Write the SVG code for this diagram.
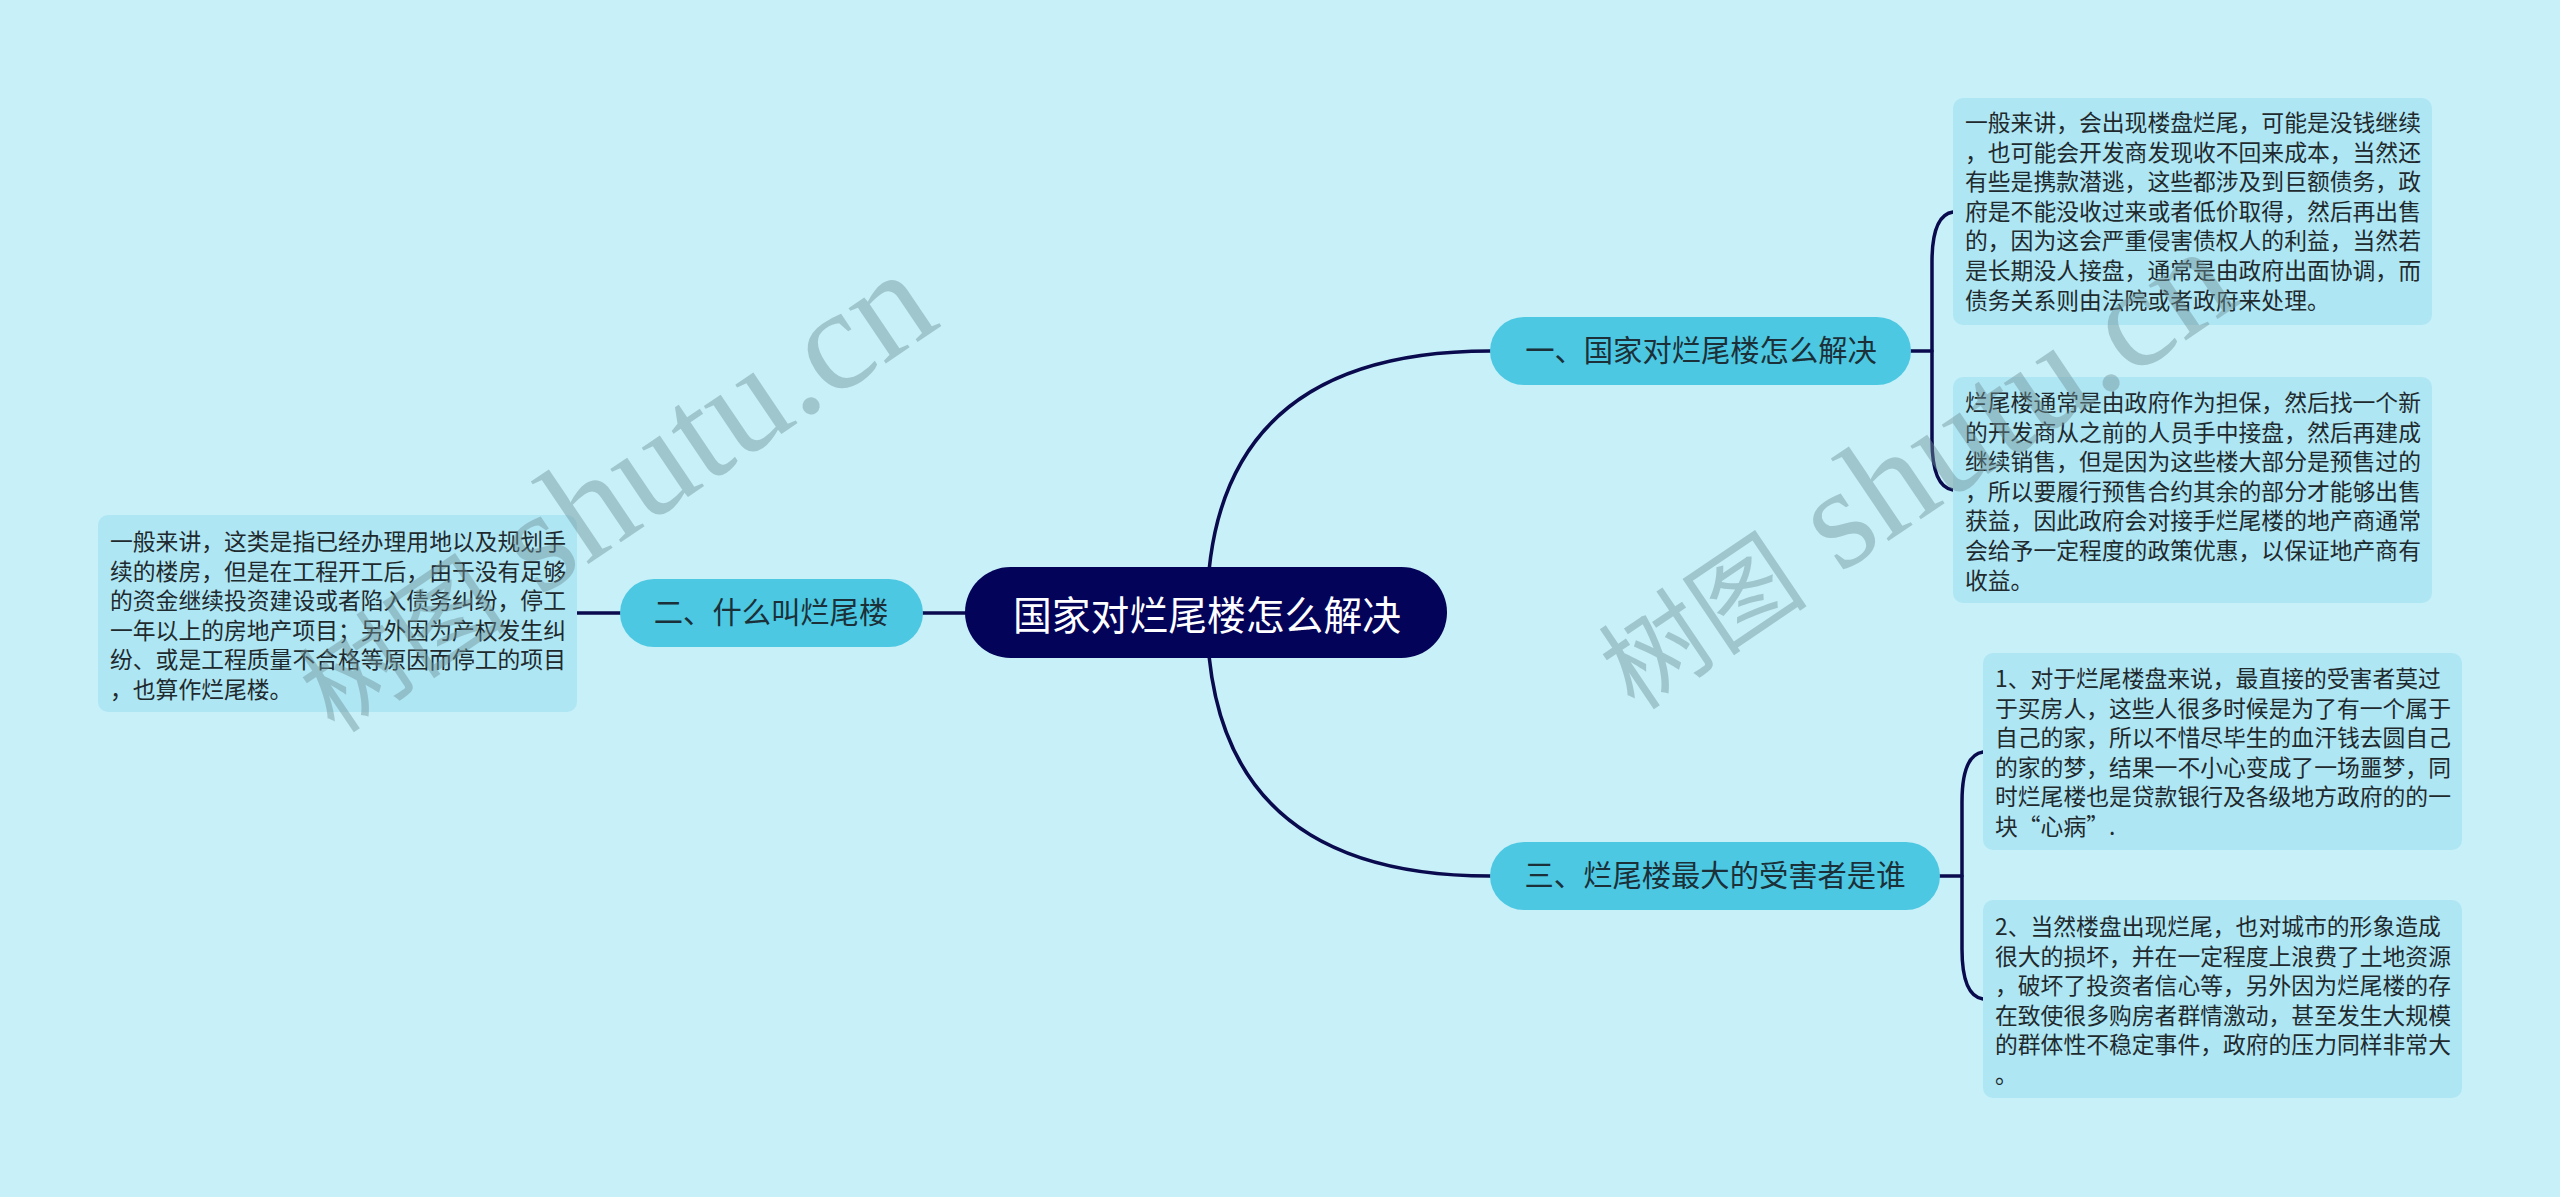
<svg xmlns="http://www.w3.org/2000/svg" width="2560" height="1197" viewBox="0 0 2560 1197">
<style>
.bg{fill:#C8F0F8}
.leaf rect{fill:#AEE6F3}
.leaf text{font-family:"Noto Sans CJK SC","Noto Sans",sans-serif;font-size:22.8px;fill:#1f2a2e}
.branch rect{fill:#4CC8E2}
.branch text{font-family:"Noto Sans CJK SC","Noto Sans",sans-serif;font-size:29.3px;fill:#1b3038;text-anchor:middle}
.center rect{fill:#03035A}
.center text{font-family:"Noto Sans CJK SC","Noto Sans",sans-serif;font-size:40px;fill:#ffffff;text-anchor:middle}
.conn path{fill:none;stroke:#0A0A4E;stroke-width:3.5;stroke-linecap:round}
.wm{font-family:"Liberation Serif","Noto Sans CJK SC",serif;font-size:145px;fill:#6f9398;fill-opacity:0.45}
.wm .cjk{font-size:105px}
</style>
<rect class="bg" x="0" y="0" width="2560" height="1197"/>
<g id="connectors" class="conn">
<path d="M1207,613 Q1207,351 1490,351"/>
<path d="M1207,613 Q1207,876 1490,876"/>
<path d="M965,613 L923,613"/>
<path d="M620,613 L577,613"/>
<path d="M1911,351 L1932,351"/>
<path d="M1953,212 Q1932,215 1932,262 L1932,440 Q1932,487 1953,490"/>
<path d="M1940,876 L1962,876"/>
<path d="M1983,752 Q1962,755 1962,802 L1962,949 Q1962,996 1983,999"/>
</g>
<g id="center" class="center">
<rect x="965" y="567" width="482" height="91" rx="45.5"/>
<text x="1207" y="630" textLength="388" lengthAdjust="spacingAndGlyphs">国家对烂尾楼怎么解决</text>
</g>
<g id="branch1" class="branch">
<rect x="1490" y="317" width="421" height="68" rx="34"/>
<text x="1701" y="361">一、国家对烂尾楼怎么解决</text>
</g>
<g id="branch2" class="branch">
<rect x="620" y="579" width="303" height="68" rx="34"/>
<text x="771" y="623">二、什么叫烂尾楼</text>
</g>
<g id="branch3" class="branch">
<rect x="1490" y="842" width="450" height="68" rx="34"/>
<text x="1715" y="886">三、烂尾楼最大的受害者是谁</text>
</g>
<g id="leaf1" class="leaf">
<rect x="1953" y="98" width="479" height="227" rx="10"/>
<text x="1965" y="131">一般来讲，会出现楼盘烂尾，可能是没钱继续</text>
<text x="1965" y="160.6">，也可能会开发商发现收不回来成本，当然还</text>
<text x="1965" y="190.2">有些是携款潜逃，这些都涉及到巨额债务，政</text>
<text x="1965" y="219.8">府是不能没收过来或者低价取得，然后再出售</text>
<text x="1965" y="249.4">的，因为这会严重侵害债权人的利益，当然若</text>
<text x="1965" y="279">是长期没人接盘，通常是由政府出面协调，而</text>
<text x="1965" y="308.6">债务关系则由法院或者政府来处理。</text>
</g>
<g id="leaf2" class="leaf">
<rect x="1953" y="377" width="479" height="226" rx="10"/>
<text x="1965" y="411">烂尾楼通常是由政府作为担保，然后找一个新</text>
<text x="1965" y="440.6">的开发商从之前的人员手中接盘，然后再建成</text>
<text x="1965" y="470.2">继续销售，但是因为这些楼大部分是预售过的</text>
<text x="1965" y="499.8">，所以要履行预售合约其余的部分才能够出售</text>
<text x="1965" y="529.4">获益，因此政府会对接手烂尾楼的地产商通常</text>
<text x="1965" y="559">会给予一定程度的政策优惠，以保证地产商有</text>
<text x="1965" y="588.6">收益。</text>
</g>
<g id="leaf3" class="leaf">
<rect x="1983" y="653" width="479" height="197" rx="10"/>
<text x="1995" y="687">1、对于烂尾楼盘来说，最直接的受害者莫过</text>
<text x="1995" y="716.6">于买房人，这些人很多时候是为了有一个属于</text>
<text x="1995" y="746.2">自己的家，所以不惜尽毕生的血汗钱去圆自己</text>
<text x="1995" y="775.8">的家的梦，结果一不小心变成了一场噩梦，同</text>
<text x="1995" y="805.4">时烂尾楼也是贷款银行及各级地方政府的的一</text>
<text x="1995" y="835">块“心病”.</text>
</g>
<g id="leaf4" class="leaf">
<rect x="1983" y="900" width="479" height="198" rx="10"/>
<text x="1995" y="935">2、当然楼盘出现烂尾，也对城市的形象造成</text>
<text x="1995" y="964.6">很大的损坏，并在一定程度上浪费了土地资源</text>
<text x="1995" y="994.2">，破坏了投资者信心等，另外因为烂尾楼的存</text>
<text x="1995" y="1023.8">在致使很多购房者群情激动，甚至发生大规模</text>
<text x="1995" y="1053.4">的群体性不稳定事件，政府的压力同样非常大</text>
<text x="1995" y="1083">。</text>
</g>
<g id="leaf5" class="leaf">
<rect x="98" y="515" width="479" height="197" rx="10"/>
<text x="110" y="550">一般来讲，这类是指已经办理用地以及规划手</text>
<text x="110" y="579.6">续的楼房，但是在工程开工后，由于没有足够</text>
<text x="110" y="609.2">的资金继续投资建设或者陷入债务纠纷，停工</text>
<text x="110" y="638.8">一年以上的房地产项目；另外因为产权发生纠</text>
<text x="110" y="668.4">纷、或是工程质量不合格等原因而停工的项目</text>
<text x="110" y="698">，也算作烂尾楼。</text>
</g>
<text class="wm" transform="translate(335,735) rotate(-34)"><tspan class="cjk">树图</tspan> shutu.cn</text>
<text class="wm" transform="translate(1635,712) rotate(-34)"><tspan class="cjk">树图</tspan> shutu.cn</text>
</svg>
